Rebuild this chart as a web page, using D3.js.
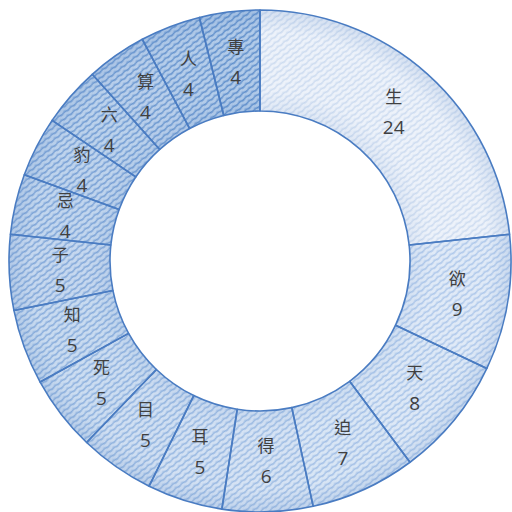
<!DOCTYPE html>
<html>
<head>
<meta charset="utf-8">
<script src="https://cdn.jsdelivr.net/npm/d3@7"></script>
<style>
  html, body { margin: 0; padding: 0; background: #fff; }
  svg { display: block; }
</style>
</head>
<body>
<svg id="chart" width="512" height="512"></svg>
<script>
// Character frequencies, drawn clockwise from 12 o'clock
const categories = ["生", "欲", "天", "迫", "得", "耳", "目", "死", "知", "子", "忌", "豹", "六", "算", "人", "專"];
const counts     = [24, 9, 8, 7, 6, 5, 5, 5, 5, 5, 4, 4, 4, 4, 4, 4];

const width = 512, height = 512;
const cx = 260, cy = 261;
const outerR = 251, innerR = 150;

const svg = d3.select("#chart");
const defs = svg.append("defs");

const data = categories.map((c, i) => ({ name: c, value: counts[i], i }));
const n = data.length;

// Shade ramps from the first slice (lightest) to the last (darkest)
const baseColor = d3.scaleLinear().domain([0, 1, n - 1]).range(["#edf2fa", "#e0eaf7", "#b2cbe9"]).interpolate(d3.interpolateRgb);
const lineColor = d3.scaleLinear().domain([0, 1, n - 1]).range(["#ccdbf0", "#adc7ea", "#5e8ecb"]).interpolate(d3.interpolateRgb);

// Fine wavy diagonal hatch, one pattern per slice
const spacing = 5;
data.forEach(d => {
  const p = defs.append("pattern")
    .attr("id", "hatch" + d.i)
    .attr("patternUnits", "userSpaceOnUse")
    .attr("width", 8)
    .attr("height", spacing)
    .attr("patternTransform", "rotate(-38)");
  p.append("rect").attr("width", 8).attr("height", spacing).attr("fill", baseColor(d.i));
  p.append("path")
    .attr("d", `M0,${spacing / 2} Q2,${spacing / 2 - 1} 4,${spacing / 2} T8,${spacing / 2}`)
    .attr("fill", "none")
    .attr("stroke", lineColor(d.i))
    .attr("stroke-width", 1.5);
  p.append("circle").attr("cx", 2).attr("cy", 0).attr("r", 0.7).attr("fill", lineColor(d.i)).attr("opacity", 0.6);
});

// Soft radial shading toward the ring's edges (in the ring group's coordinates)
const shade = defs.append("radialGradient")
  .attr("id", "ringShade")
  .attr("gradientUnits", "userSpaceOnUse")
  .attr("cx", 0).attr("cy", 0).attr("r", outerR);
[[innerR / outerR, 0.08], [(innerR + 22) / outerR, 0], [(outerR - 22) / outerR, 0], [1, 0.14]].forEach(([o, a]) => {
  shade.append("stop").attr("offset", o).attr("stop-color", "#3f72b8").attr("stop-opacity", a);
});

const pie = d3.pie().value(d => d.value).sort(null).startAngle(0).endAngle(2 * Math.PI);
const arc = d3.arc().innerRadius(innerR).outerRadius(outerR);
const labelArc = d3.arc().innerRadius(200).outerRadius(200);

const arcs = pie(data);
const g = svg.append("g").attr("transform", `translate(${cx},${cy})`);

g.selectAll("path.slice")
  .data(arcs)
  .join("path")
  .attr("class", "slice")
  .attr("d", arc)
  .attr("fill", d => `url(#hatch${d.data.i})`);

g.selectAll("path.shade")
  .data(arcs)
  .join("path")
  .attr("class", "shade")
  .attr("d", arc)
  .attr("fill", "url(#ringShade)");

g.selectAll("path.edge")
  .data(arcs)
  .join("path")
  .attr("class", "edge")
  .attr("d", arc)
  .attr("fill", "none")
  .attr("stroke", "#4a7cc2")
  .attr("stroke-width", 1.6)
  .attr("stroke-linejoin", "round");

// Two-line labels: character, then count
const labels = g.selectAll("g.label")
  .data(arcs)
  .join("g")
  .attr("class", "label")
  .attr("transform", d => `translate(${labelArc.centroid(d)})`);

labels.append("text")
  .attr("y", -9)
  .attr("text-anchor", "middle")
  .attr("font-family", "'Noto Sans CJK TC', 'Noto Sans CJK SC', sans-serif")
  .attr("font-size", 17)
  .attr("fill", "#404040")
  .text(d => d.data.name);

labels.append("text")
  .attr("y", 22)
  .attr("text-anchor", "middle")
  .attr("font-family", "'Open Sans', 'Liberation Sans', sans-serif")
  .attr("font-size", 19)
  .attr("fill", "#404040")
  .text(d => d.data.value);
</script>
</body>
</html>
